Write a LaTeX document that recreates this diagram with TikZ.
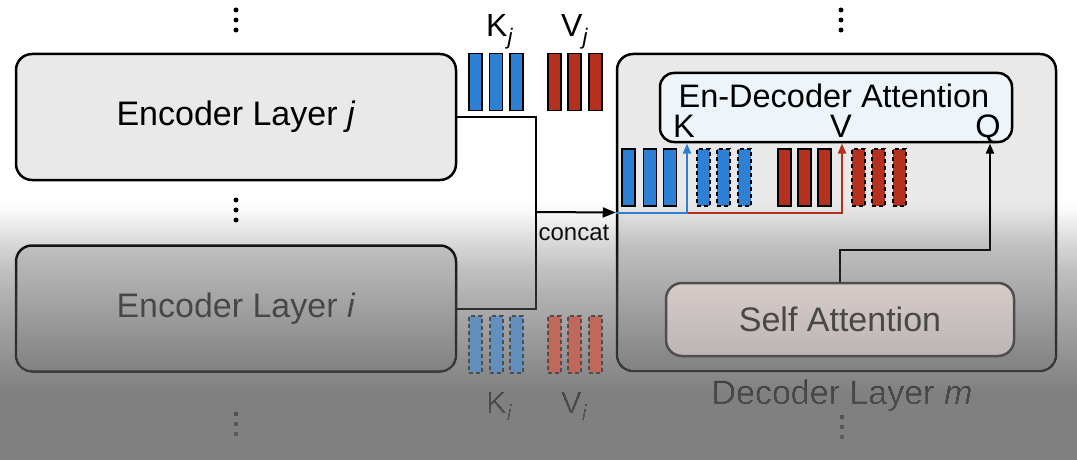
\documentclass[tikz,border=0pt]{standalone}
\usepackage{fontspec}
\setmainfont{Liberation Sans}
\usetikzlibrary{arrows.meta}
\definecolor{kblue}{RGB}{46,128,212}
\definecolor{vred}{RGB}{182,48,30}
\definecolor{kbluef}{RGB}{98,143,190}
\definecolor{vredf}{RGB}{192,104,92}
\definecolor{fadeline}{RGB}{78,78,78}
\definecolor{boxgray}{RGB}{233,233,233}
\definecolor{attfill}{RGB}{238,245,250}
\definecolor{satop}{RGB}{214,204,202}
\definecolor{sabot}{RGB}{188,181,180}
\definecolor{satext}{RGB}{72,72,72}
\definecolor{enctext}{RGB}{50,50,50}
\definecolor{ovgray}{RGB}{128,128,128}
\begin{document}
\begin{tikzpicture}[x=1pt,y=-1pt,
  declare function={ov(\y)=(\y<200) ? 0 : ((\y<210) ? 0.003*(\y-200) : ((\y<250) ? 0.03+0.00625*(\y-210) : ((\y<300) ? 0.28+0.0048*(\y-250) : ((\y<370) ? 0.52+0.00257*(\y-300) : 0.70+0.00244*(\y-370)))));},
  layer/.style={draw=black, line width=2.5pt, rounded corners=16pt, fill=boxgray,
    minimum width=440pt, minimum height=126pt, inner sep=0pt, font=\fontsize{34}{38}\selectfont},
  bar/.style={draw=black, line width=1.6pt, minimum width=13pt, minimum height=57pt, inner sep=0pt},
  dbar/.style={bar, line width=2pt, dash pattern=on 4pt off 3pt},
  kb/.style={bar, fill=kblue}, vb/.style={bar, fill=vred},
  kd/.style={dbar, fill=kblue}, vd/.style={dbar, fill=vred},
  kdf/.style={dbar, draw=fadeline, fill=kbluef}, vdf/.style={dbar, draw=fadeline, fill=vredf},
  lab/.style={font=\fontsize{32.5}{36}\selectfont, inner sep=0pt},
  dot/.style={circle, fill=black, minimum size=5pt, inner sep=0pt},
  conn/.style={line width=2pt},
  tip/.style={-{Triangle[length=10pt,width=8pt]}}
]
\useasboundingbox (0,0) rectangle (1077,460);
\fill[white] (0,0) rectangle (1077,460);

% vertical dots
\foreach \n/\x/\y in {a/236/20, b/236/210, c/236/424, d/841/20, e/842/427}{
  \node[dot] (dt\n1) at (\x,\y-10) {};
  \node[dot] (dt\n2) at (\x,\y) {};
  \node[dot] (dt\n3) at (\x,\y+10) {};
}

% encoder layers
\node[layer] (encj) at (236,117) {Encoder Layer \textit{j}};
\node[layer, text=enctext] (enci) at (236,308.5) {Encoder Layer \textit{i}};

% decoder layer
\node[layer, minimum width=439pt, minimum height=317pt] (dec) at (836.5,212.5) {};
\node[draw=black, line width=2.5pt, rounded corners=14pt, fill=attfill, minimum width=352pt,
  minimum height=69pt, inner sep=0pt] (att) at (836,107.5) {};
\node[lab, anchor=base] (attT) at (834,107) {En-Decoder Attention};
\node[lab, anchor=base] (attK) at (684,137) {K};
\node[lab, anchor=base] (attV) at (841,137) {V};
\node[lab, anchor=base] (attQ) at (988,137) {Q};
\node[lab, anchor=base, font=\fontsize{34}{38}\selectfont] (decL) at (842,404) {Decoder Layer \textit{m}};

% K_j, V_j
\node[lab, anchor=base west, font=\fontsize{32}{36}\selectfont] (Kj) at (486,37) {K\textsubscript{\textit{j}}};
\node[lab, anchor=base west, font=\fontsize{32}{36}\selectfont] (Vj) at (561,37) {V\textsubscript{\textit{j}}};
\foreach \x [count=\k] in {475.5,496,516.5}{\node[kb] (kj\k) at (\x,82) {};}
\foreach \x [count=\k] in {554.5,574.5,595.5}{\node[vb] (vj\k) at (\x,82) {};}

% K_i, V_i labels
\node[lab, anchor=base west, font=\fontsize{31}{36}\selectfont] (Ki) at (486,413) {K\textsubscript{\textit{i}}};
\node[lab, anchor=base west, font=\fontsize{31}{36}\selectfont] (Vi) at (561,413) {V\textsubscript{\textit{i}}};

% decoder-side K, V bars
\foreach \x [count=\k] in {628.5,650,670}{\node[kb] (dk\k) at (\x,177.5) {};}
\foreach \x [count=\k] in {703.5,723.5,744.5}{\node[kd] (dkd\k) at (\x,177.5) {};}
\foreach \x [count=\k] in {784.5,804.5,824.5}{\node[vb] (dv\k) at (\x,177.5) {};}
\foreach \x [count=\k] in {858.5,878.5,899}{\node[vd] (dvd\k) at (\x,177.5) {};}

% connectors
\coordinate (jn) at (536,212);
\coordinate (kin) at (687,212.5);
\coordinate (kk) at (687,143.5);
\coordinate (vv) at (842,143.5);
\coordinate (qbend) at (840,250);
\coordinate (qq) at (990,143.5);
\coordinate (sanorth) at (840,282);
\draw[conn] (encj.east) -| (jn);
\draw[conn] (enci.east) -| (jn);
\draw[conn, -{Triangle[length=13pt,width=10pt]}] (jn) -- (dec.west);
\node[anchor=base, inner sep=0pt, font=\fontsize{24}{28}\selectfont] (concat) at (574,240) {concat};
\draw[conn, draw=vred, -{Triangle[length=10pt,width=8pt]}] (kin) -| (vv);
\draw[conn, draw=kblue, -{Triangle[length=10pt,width=8pt]}] (dec.west) -| (kk);
\draw[conn, tip] (sanorth) -- (qbend) -| (qq);

% gray fade overlay: nested strips, each reaching to the bottom edge
\foreach \k in {0,...,129}{
  \pgfmathsetmacro\ya{200+2*\k}
  \pgfmathsetmacro\A{ov(\ya+1)}
  \pgfmathsetmacro\Ap{max(0,ov(\ya-1))}
  \pgfmathsetmacro\dd{max(0,1-(1-\A)/(1-\Ap))}
  \fill[ovgray, fill opacity=\dd] (0,\ya) rectangle (1077,460);
}

% faded elements keeping some colour
\foreach \x [count=\k] in {475.5,496,516.5}{\node[kdf] (ki\k) at (\x,344) {};}
\foreach \x [count=\k] in {554.5,574.5,595.5}{\node[vdf] (vi\k) at (\x,344) {};}
\node[draw=fadeline, line width=2.5pt, rounded corners=16pt, top color=satop, bottom color=sabot,
  minimum width=348pt, minimum height=73pt, inner sep=0pt, text=satext,
  font=\fontsize{34}{38}\selectfont] (sa) at (840,319.5) {Self Attention};
\end{tikzpicture}
\end{document}
